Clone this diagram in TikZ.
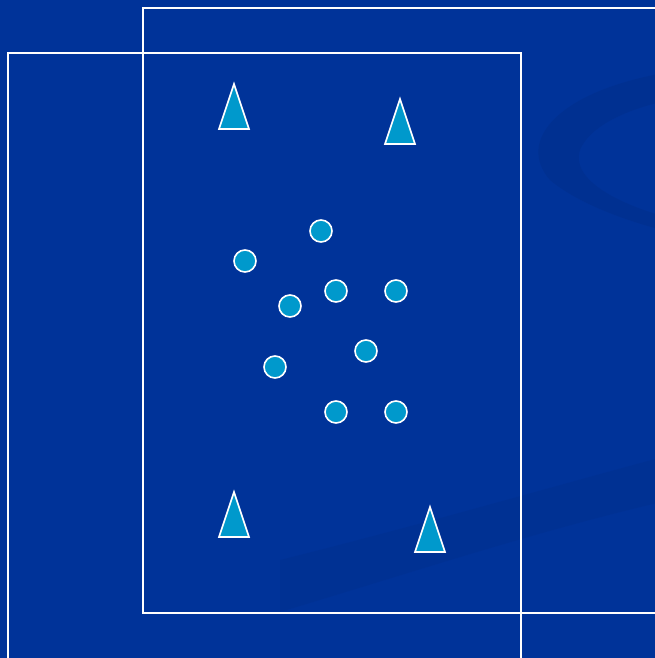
\documentclass[tikz,border=0pt]{standalone}
\usepackage{tikz}
\usetikzlibrary{positioning}
\definecolor{Field}{HTML}{003399}
\definecolor{FieldDark}{HTML}{00308F}
\definecolor{Ball}{HTML}{0099CC}
\tikzset{
  frame/.style={draw=white,line width=1.6pt},
  cone/.style={draw=white,fill=Ball,line width=1.4pt,line join=miter},
  player/.style={circle,draw=white,fill=Ball,line width=1.4pt,minimum size=6.6mm,inner sep=0pt},
  swoosh/.style={fill=FieldDark,draw=none}
}
\begin{document}
\begin{tikzpicture}[x=0.3mm,y=-0.3mm]
  \useasboundingbox (0,0) rectangle (655,658);
  \fill[Field] (0,0) rectangle (655,658);
  \begin{scope}
    \clip (0,0) rectangle (655,658);
    % background swooshes
    \fill[swoosh,opacity=.8] (670,72) .. controls (560,90) and (515,140) .. (550,180)
      .. controls (580,205) and (630,222) .. (670,232)
      -- (670,218) .. controls (620,205) and (570,180) .. (580,150)
      .. controls (590,125) and (630,108) .. (670,100) -- cycle;
    \fill[swoosh,opacity=.5] (280,560) .. controls (420,525) and (540,490) .. (670,455)
      -- (670,500) .. controls (540,530) and (420,570) .. (280,612) -- cycle;
    % fields
    \draw[frame] (143,8) rectangle (680,613);
    \draw[frame] (8,53) rectangle (521,680);
  \end{scope}
  % cones
  \foreach \cx/\cy [count=\i] in {234/129,400/144,234/537,430/552}
    \draw[cone] (\cx,\cy) coordinate (cone\i) ++(-15,0) -- ++(15,-45) -- ++(15,45) -- cycle;
  % players
  \node[player] (p1) at (321,231) {};
  \node[player] (p2) at (245,261) {};
  \node[player] (p3) at (290,306) {};
  \node[player] (p4) at (336,291) {};
  \node[player] (p5) at (396,291) {};
  \node[player] (p6) at (366,351) {};
  \node[player] (p7) at (275,367) {};
  \node[player] (p8) at (336,412) {};
  \node[player] (p9) at (396,412) {};
\end{tikzpicture}
\end{document}
